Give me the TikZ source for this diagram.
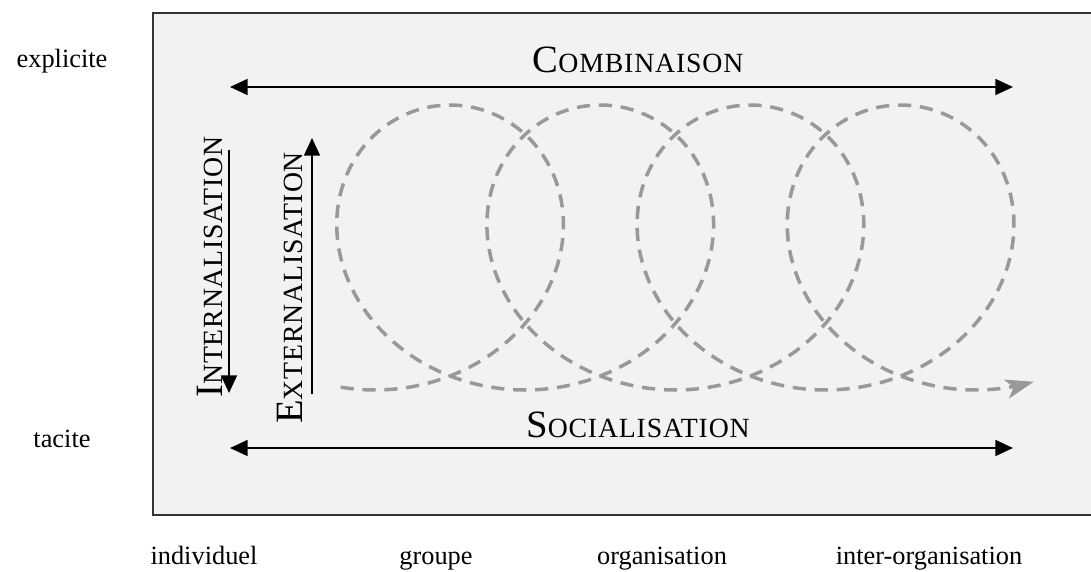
\documentclass[tikz,border=0pt]{standalone}
\usepackage{fontspec}
\setmainfont{Liberation Serif}
\usetikzlibrary{arrows.meta}
\newcommand{\fakesc}[2]{{\fontsize{22}{24}\selectfont #1}{\fontsize{15.8}{17}\selectfont\addfontfeature{LetterSpace=3} #2}}

\begin{document}
\begin{tikzpicture}[x=0.02cm,y=-0.02cm]
\tikzstyle{lbl}=[font=\fontsize{15}{18}\selectfont,inner sep=0pt,anchor=base]
\tikzstyle{mode}=[inner sep=0pt,anchor=base]
\tikzstyle{flow}=[line width=1.2pt,-{Triangle[length=10pt,width=9pt]}]
\tikzstyle{both}=[line width=1.2pt,{Triangle[length=10pt,width=9pt]}-{Triangle[length=10pt,width=9pt]}]
\tikzstyle{spiral}=[line width=2pt,dash pattern=on 7.5pt off 5pt,-{Stealth[length=16pt,width=11pt,inset=4pt]},color=black!40]
\useasboundingbox (0,0) rectangle (1091,571);
% panel, open on the right
\fill[black!5] (153,13) rectangle (1091,515);
\draw[black!80,line width=0.7pt] (1091,13) -- (153,13) -- (153,515) -- (1091,515);
% axes
\node[lbl] (expl) at (62,68) {explicite};
\node[lbl] (tac) at (62,447) {tacite};
\node[lbl] (ind) at (204,564) {individuel};
\node[lbl] (grp) at (436,564) {groupe};
\node[lbl] (org) at (662,564) {organisation};
\node[lbl] (inter) at (929,564) {inter-organisation};
% the four modes
\coordinate (combL) at (230,87);
\coordinate (combR) at (1013,87);
\coordinate (socL) at (230,448);
\coordinate (socR) at (1013,448);
\coordinate (intT) at (229,150);
\coordinate (intB) at (229,393);
\coordinate (extB) at (312,394);
\coordinate (extT) at (312,138);
\draw[both] (combL) -- (combR);
\draw[both] (socL) -- (socR);
\draw[flow] (intT) -- (intB);
\draw[flow] (extB) -- (extT);
\node[mode] (comb) at (638,72) {\fakesc{C}{OMBINAISON}};
\node[mode] (soc) at (638,437) {\fakesc{S}{OCIALISATION}};
\node[mode,rotate=90] (int) at (222,267) {\fakesc{I}{NTERNALISATION}};
\node[mode,rotate=90] (ext) at (302,288) {\fakesc{E}{XTERNALISATION}};
% knowledge spiral
\draw[spiral] plot[domain=-0.2:25.48,samples=500,variable=\t]
  ({375+23.9*\t+149*sin(\t r)},{247.5+142.5*cos(\t r)});
\end{tikzpicture}
\end{document}
